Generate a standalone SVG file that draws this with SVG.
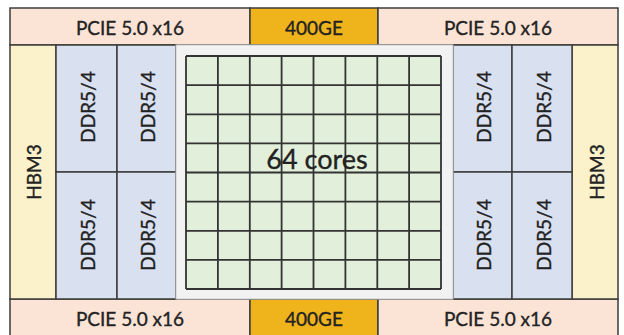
<svg xmlns="http://www.w3.org/2000/svg" width="624" height="335" viewBox="0 0 624 335">
<style>
.b{stroke:#3c3c3c;stroke-width:1.5}
.pcie{fill:#fbe4d6}
.ge{fill:#efb31c}
.hbm{fill:#fbf1cb}
.ddr{fill:#d9e0f0}
.t{font-family:Lato,"Open Sans","Liberation Sans",sans-serif;fill:#222222;stroke:#222222;stroke-width:0.35;text-anchor:middle;dominant-baseline:central}
.s{font-size:19px}
</style>
<rect x="0" y="0" width="624" height="335" fill="#ffffff"/>
<g id="pcie-top-left"><rect class="b pcie" x="10" y="8" width="240" height="37"/><text class="t s" x="130" y="27">PCIE 5.0 x16</text></g>
<g id="ge-top"><rect class="b ge" x="250" y="8" width="128" height="37"/><text class="t s" x="314" y="27">400GE</text></g>
<g id="pcie-top-right"><rect class="b pcie" x="378" y="8" width="240" height="37"/><text class="t s" x="498" y="27">PCIE 5.0 x16</text></g>
<g id="pcie-bottom-left"><rect class="b pcie" x="10" y="299" width="240" height="40"/><text class="t s" x="130" y="318">PCIE 5.0 x16</text></g>
<g id="ge-bottom"><rect class="b ge" x="250" y="299" width="128" height="40"/><text class="t s" x="314" y="318">400GE</text></g>
<g id="pcie-bottom-right"><rect class="b pcie" x="378" y="299" width="240" height="40"/><text class="t s" x="498" y="318">PCIE 5.0 x16</text></g>
<g id="hbm-left"><rect class="b hbm" x="10" y="45" width="46" height="254"/><text class="t s" transform="translate(33 172) rotate(-90)">HBM3</text></g>
<g id="hbm-right"><rect class="b hbm" x="572" y="45" width="46" height="254"/><text class="t s" transform="translate(596 172) rotate(-90)">HBM3</text></g>
<g id="ddr-l1-top"><rect class="b ddr" x="56" y="45" width="61" height="127"/><text class="t s" transform="translate(87 107) rotate(-90)">DDR5/4</text></g>
<g id="ddr-l2-top"><rect class="b ddr" x="117" y="45" width="59" height="127"/><text class="t s" transform="translate(147 107) rotate(-90)">DDR5/4</text></g>
<g id="ddr-l1-bottom"><rect class="b ddr" x="56" y="172" width="61" height="127"/><text class="t s" transform="translate(87 235) rotate(-90)">DDR5/4</text></g>
<g id="ddr-l2-bottom"><rect class="b ddr" x="117" y="172" width="59" height="127"/><text class="t s" transform="translate(147 235) rotate(-90)">DDR5/4</text></g>
<g id="ddr-r1-top"><rect class="b ddr" x="453" y="45" width="59" height="127"/><text class="t s" transform="translate(483 107) rotate(-90)">DDR5/4</text></g>
<g id="ddr-r2-top"><rect class="b ddr" x="512" y="45" width="60" height="127"/><text class="t s" transform="translate(543 107) rotate(-90)">DDR5/4</text></g>
<g id="ddr-r1-bottom"><rect class="b ddr" x="453" y="172" width="59" height="127"/><text class="t s" transform="translate(483 235) rotate(-90)">DDR5/4</text></g>
<g id="ddr-r2-bottom"><rect class="b ddr" x="512" y="172" width="60" height="127"/><text class="t s" transform="translate(543 235) rotate(-90)">DDR5/4</text></g>
<g id="cores">
<rect x="176" y="45" width="277" height="254" fill="#f2f2f2" stroke="#c8c8c8" stroke-width="1"/>
<rect x="186" y="56" width="255" height="233" fill="#e2efda"/>
<path d="M186 56H441M186 85.1H441M186 114.3H441M186 143.4H441M186 172.5H441M186 201.6H441M186 230.8H441M186 259.9H441M186 289H441M186 56V289M217.9 56V289M249.8 56V289M281.6 56V289M313.5 56V289M345.4 56V289M377.3 56V289M409.1 56V289M441 56V289" fill="none" stroke="#333333" stroke-width="1.8"/>
<text class="t" x="317" y="158" font-size="27">64 cores</text>
</g>
</svg>
